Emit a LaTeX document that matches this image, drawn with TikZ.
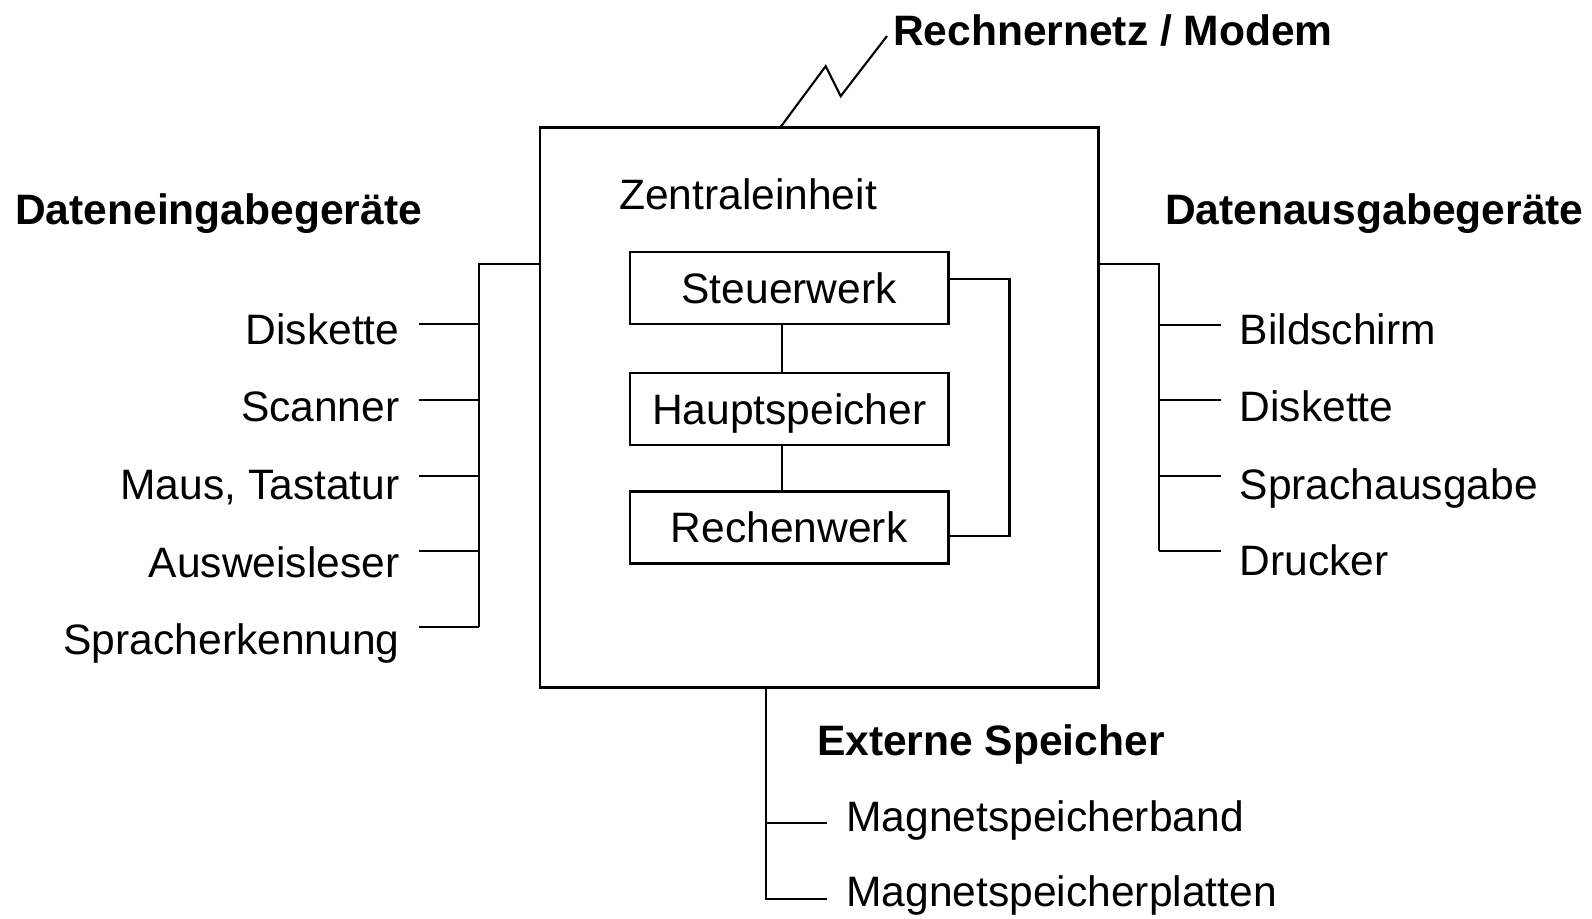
\documentclass[tikz,border=0pt]{standalone}
\usepackage{fontspec}
\setmainfont{Liberation Sans}
\usetikzlibrary{calc}

\tikzset{
  werk/.style={draw, minimum width=3.183cm, minimum height=0.72cm,
    text height=8.6pt, text depth=0pt, inner sep=0pt},
  lbl/.style={inner sep=0pt, outer xsep=0.19cm},
  kopf/.style={inner sep=0pt, font=\fontsize{12.1}{14}\selectfont\bfseries},
}

\begin{document}
\begin{tikzpicture}[x=0.01cm, y=-0.01cm, line width=0.6pt,
    font=\fontsize{12.1}{14}\selectfont]
  \useasboundingbox (0,0) rectangle (1592,919);

  % Zentraleinheit
  \node[draw, minimum width=5.583cm, minimum height=5.596cm, inner sep=0pt]
    (zentrale) at (819.2,407.5) {};
  \node[anchor=base west, inner sep=0pt] (titel) at (618,210) {Zentraleinheit};
  \node[werk] (steuer) at (789.2,288.3) {Steuerwerk};
  \node[werk] (haupt) at (789.2,409.2) {Hauptspeicher};
  \node[werk] (rechen) at (789.2,527.5) {Rechenwerk};
  \draw ([xshift=-0.075cm]steuer.south) -- ([xshift=-0.075cm]haupt.north);
  \draw ([xshift=-0.075cm]haupt.south) -- ([xshift=-0.075cm]rechen.north);
  \draw ([yshift=0.093cm]steuer.east) -- ++(60,0) |- ([yshift=-0.082cm]rechen.east);

  % Rechnernetz
  \node[kopf, anchor=base west] (netz) at (892,45.5) {Rechnernetz / Modem};
  \draw ([xshift=2.42cm]zentrale.north west) -- ++(44.7,-60.3) -- ++(15,30)
    -- ($(netz.base west)+(-5,-9.5)$);

  % Eingabe
  \node[kopf, anchor=base west] (eingabe) at (14.2,225) {Dateneingabegeräte};
  \coordinate (einbus) at (479,264);
  \foreach \name/\txt/\ty/\ly in {dk/Diskette/345/324.3, sc/Scanner/422/400,
      mt/{Maus, Tastatur}/499.5/475.7, aw/Ausweisleser/577/551.4,
      sp/Spracherkennung/654/627.1} {
    \node[lbl, anchor=base east] (ein-\name) at (418.5,\ty) {\txt};
    \coordinate (eb-\name) at (479,\ly);
    \draw (ein-\name.east |- eb-\name) -- (eb-\name);
  }
  \draw (einbus -| zentrale.west) -- (einbus) -- (eb-sp);

  % Ausgabe
  \node[kopf, anchor=base west] (ausgabe) at (1164,225) {Datenausgabegeräte};
  \coordinate (ausbus) at (1159.3,264);
  \foreach \name/\txt/\ty/\ly in {bs/Bildschirm/345/324.7, dk/Diskette/422/400,
      sa/Sprachausgabe/499/475.7, dr/Drucker/575/551} {
    \node[lbl, anchor=base west] (aus-\name) at (1220.7,\ty) {\txt};
    \coordinate (ab-\name) at (1159.3,\ly);
    \draw (ab-\name) -- (aus-\name.west |- ab-\name);
  }
  \draw (ausbus -| zentrale.east) -- (ausbus) -- (ab-dr);

  % Externe Speicher
  \node[kopf, anchor=base west] (extern) at (816,755) {Externe Speicher};
  \node[lbl, anchor=base west] (band) at (827.3,831) {Magnetspeicherband};
  \node[lbl, anchor=base west] (platten) at (827.3,906) {Magnetspeicherplatten};
  \coordinate (xb-band) at (766,823);
  \coordinate (xb-platten) at (766,899);
  \draw (zentrale.south -| xb-band) -- (xb-platten) -- (platten.west |- xb-platten);
  \draw (xb-band) -- (band.west |- xb-band);
\end{tikzpicture}
\end{document}
